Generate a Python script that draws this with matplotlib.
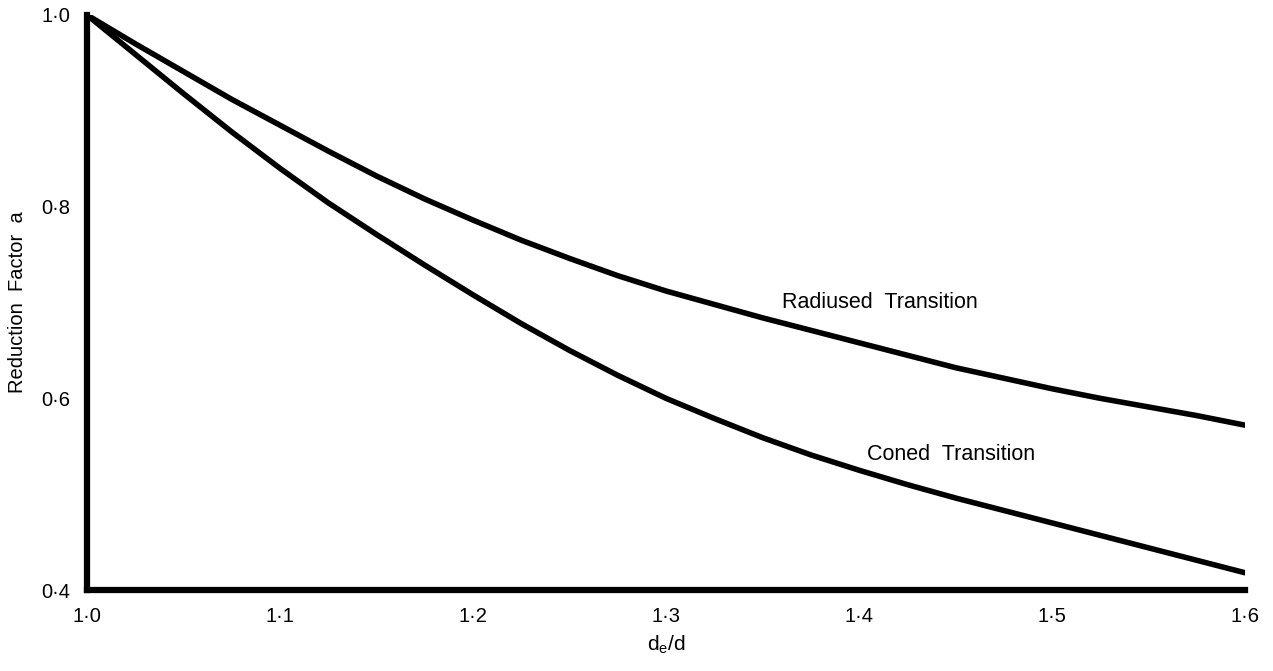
import matplotlib
matplotlib.use("Agg")
import matplotlib.pyplot as plt

plt.rcParams['font.family'] = ['Liberation Sans', 'DejaVu Sans']

# values
ratio = [1.000, 1.025, 1.050, 1.075, 1.100, 1.125, 1.150, 1.175, 1.200, 1.225,
         1.250, 1.275, 1.300, 1.325, 1.350, 1.375, 1.400, 1.425, 1.450, 1.475,
         1.500, 1.525, 1.550, 1.575, 1.600]
radiused = [1.000, 0.970, 0.941, 0.912, 0.885, 0.858, 0.832, 0.808, 0.786, 0.765,
            0.746, 0.728, 0.712, 0.698, 0.684, 0.671, 0.658, 0.645, 0.632, 0.621,
            0.610, 0.600, 0.591, 0.582, 0.572]
coned = [1.000, 0.959, 0.918, 0.878, 0.840, 0.804, 0.771, 0.739, 0.708, 0.678,
         0.650, 0.624, 0.600, 0.579, 0.559, 0.541, 0.525, 0.510, 0.496, 0.483,
         0.470, 0.457, 0.444, 0.431, 0.418]

xticks = [1.0, 1.1, 1.2, 1.3, 1.4, 1.5, 1.6]
xtick_labels = ['1·0', '1·1', '1·2', '1·3', '1·4', '1·5', '1·6']
yticks = [0.4, 0.6, 0.8, 1.0]
ytick_labels = ['0·4', '0·6', '0·8', '1·0']

fig = plt.figure(figsize=(12.73, 6.71), dpi=100)
ax = fig.add_axes([87 / 1273, 81 / 671, 1158 / 1273, 575 / 671])

ax.plot(ratio, radiused, color='black', lw=4, solid_joinstyle='round', solid_capstyle='round')
ax.plot(ratio, coned, color='black', lw=4, solid_joinstyle='round', solid_capstyle='round')

ax.text(1.360, 0.6995, 'Radiused  Transition', fontsize=15.5, va='center', ha='left')
ax.text(1.404, 0.541, 'Coned  Transition', fontsize=15.5, va='center', ha='left')

ax.set_xlim(1.0, 1.6)
ax.set_ylim(0.4, 1.0)
ax.set_xticks(xticks)
ax.set_xticklabels(xtick_labels, fontsize=14.5)
ax.set_yticks(yticks)
ax.set_yticklabels(ytick_labels, fontsize=14.5)
ax.tick_params(length=0, pad=12)

ax.set_xlabel(r'$\mathregular{d_e/d}$', fontsize=15, labelpad=6)
ax.set_ylabel('Reduction  Factor  a', fontsize=14.5, labelpad=10)

for side in ['top', 'right']:
    ax.spines[side].set_visible(False)
for side in ['left', 'bottom']:
    ax.spines[side].set_linewidth(4.5)
    ax.spines[side].set_capstyle('projecting')

fig.savefig('out.png', dpi=100)
